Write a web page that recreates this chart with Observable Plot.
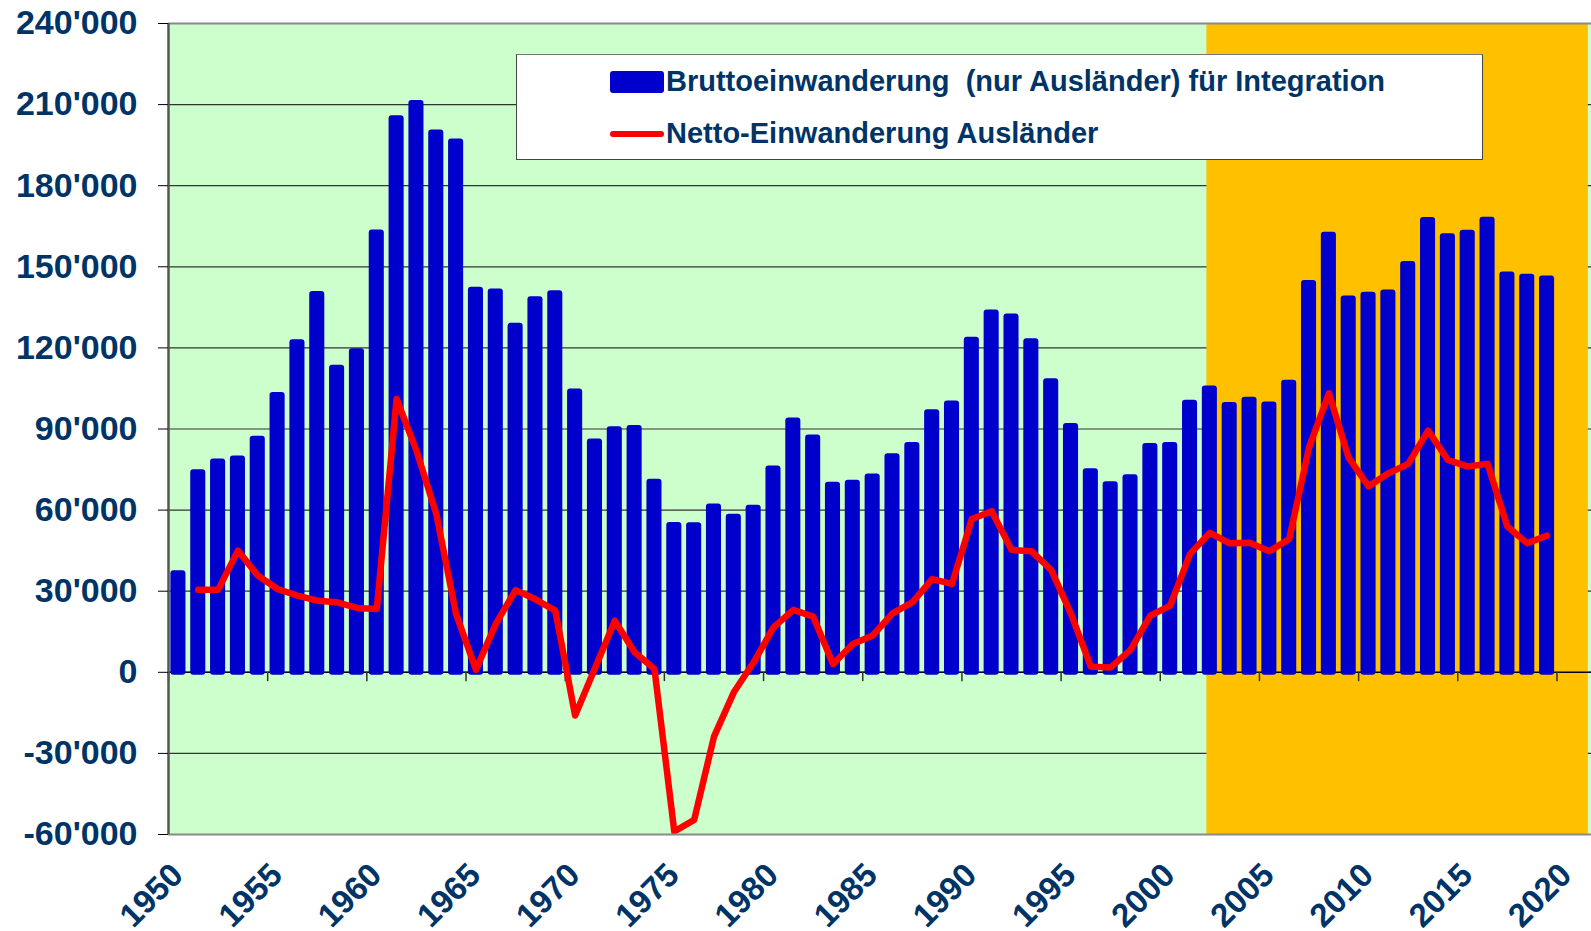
<!DOCTYPE html>
<html>
<head>
<meta charset="utf-8">
<script src="https://cdn.jsdelivr.net/npm/d3@7"></script>
<script src="https://cdn.jsdelivr.net/npm/@observablehq/plot@0.6"></script>
<style>
  body { margin: 0; background: #fff; font-family: "Liberation Sans", Arial, sans-serif; }
  #wrap { position: relative; width: 1591px; height: 931px; }
  #legend { position: absolute; left: 516px; top: 54px; width: 967px; height: 106px; background: #fff;
            border: 1px solid #444; border-top-color: #777; box-sizing: border-box; }
  .sw { position: absolute; left: 93px; }
  .lt { position: absolute; left: 149px; font-weight: bold; font-size: 29px; line-height: 29px; color: #003366; white-space: pre; }
</style>
</head>
<body>
<div id="wrap">
  <div id="chart"></div>
  <div id="legend">
    <div class="sw" style="top:16px;width:54px;height:22px;background:#0000cc;border-radius:3px;"></div>
    <div class="lt" id="lg1" style="top:12px;"></div>
    <div class="sw" style="top:76px;width:54px;height:6px;background:#ff0000;border-radius:3px;"></div>
    <div class="lt" id="lg2" style="top:64px;"></div>
  </div>
</div>
<script>
// ---- data ----
const barYears = [1950,1951,1952,1953,1954,1955,1956,1957,1958,1959,
  1960,1961,1962,1963,1964,1965,1966,1967,1968,1969,
  1970,1971,1972,1973,1974,1975,1976,1977,1978,1979,
  1980,1981,1982,1983,1984,1985,1986,1987,1988,1989,
  1990,1991,1992,1993,1994,1995,1996,1997,1998,1999,
  2000,2001,2002,2003,2004,2005,2006,2007,2008,2009,
  2010,2011,2012,2013,2014,2015,2016,2017,2018,2019];
const bruttoValues = [37600,74900,78900,80000,87300,103500,123000,140900,113600,119700,
  163600,205900,211500,200600,197300,142400,141800,129100,138900,141100,
  104800,86300,90800,91300,71400,55400,55300,62300,58500,61800,
  76300,94100,87800,70300,71000,73400,80800,85000,97100,100400,
  123900,134000,132500,123400,108600,92000,75300,70500,73100,84600,
  85000,100600,105900,99800,101700,100000,108000,144900,162800,139200,
  140600,141400,152000,168200,162200,163500,168300,148100,147200,146600];
const netYears = barYears.slice(1);
const nettoValues = [30500,30500,45000,35800,30800,28400,26500,25900,23800,
  23400,101100,82000,58600,21500,1000,17900,30400,27000,22800,
  -16000,1500,19100,7400,1200,-58900,-54600,-23800,-7400,3700,
  16600,23100,20600,3100,10500,13600,21800,25900,34500,32700,
  56700,59600,45300,44800,37900,21600,2100,1800,8300,21000,
  24700,43800,51600,47700,47900,44800,49300,83200,103200,79300,
  68800,73600,77100,89400,78600,76100,77100,53900,47700,50600];
const xTickYears = [1950,1955,1960,1965,1970,1975,1980,1985,1990,1995,2000,2005,2010,2015,2020];
const yTickValues = [-60000,-30000,0,30000,60000,90000,120000,150000,180000,210000,240000];
const highlightPeriod = [{start: 2002.35, end: 2021.58}];
const seriesNames = ["Bruttoeinwanderung  (nur Ausländer) für Integration", "Netto-Einwanderung Ausländer"];

const bars = barYears.map((year, i) => ({year, value: bruttoValues[i]}));
const net = netYears.map((year, i) => ({year, value: nettoValues[i]}));

const fmt = d => (d < 0 ? "-" : "") + d3.format(",")(Math.abs(d)).replace(/,/g, "'");
const navy = "#003366";

const chart = Plot.plot({
  width: 1591,
  height: 931,
  marginLeft: 168,
  marginRight: 0,
  marginTop: 23,
  marginBottom: 97,
  x: {domain: [1950, 2021.74], axis: null},
  y: {domain: [-60000, 240000], axis: null},
  style: {fontFamily: '"Liberation Sans", Arial, sans-serif', fontWeight: "bold", background: "transparent", overflow: "visible"},
  marks: [
    Plot.frame({fill: "#ccffcc", stroke: null}),
    Plot.gridY(yTickValues, {stroke: "#333", strokeOpacity: 1, strokeWidth: 1.2}),
    Plot.rect(highlightPeriod, {x1: "start", x2: "end", fill: "#ffc000"}),
    Plot.ruleY([0], {stroke: "#000", strokeWidth: 1.5}),
    Plot.ruleX(xTickYears, {x: d => d, y1: 0, y2: -3450, stroke: "#333", strokeWidth: 1.5}),
    Plot.rect(bars, {x1: d => d.year + 0.12, x2: d => d.year + 0.88, y1: 0, y2: "value", fill: "#0000cc", rx: 3, insetBottom: -3}),
    Plot.line(net, {x: d => d.year + 0.5, y: "value", stroke: "#ff0000", strokeWidth: 6.5, strokeLinejoin: "round", strokeLinecap: "round"}),
    Plot.ruleY([-60000, 240000], {stroke: "#8a8a8a", strokeWidth: 2}),
    Plot.ruleX([1950], {stroke: "#555", strokeWidth: 2.5}),
    Plot.axisY(yTickValues, {label: null, tickSize: 10, tickPadding: 21, fontSize: 34, stroke: "#000", fill: navy, tickFormat: fmt}),
    Plot.text(xTickYears, {x: d => d, text: d => String(d), frameAnchor: "bottom", rotate: -45, textAnchor: "end", lineAnchor: "top", dy: 26, fontSize: 33, fill: navy})
  ]
});
document.getElementById("chart").appendChild(chart);
document.getElementById("lg1").textContent = seriesNames[0];
document.getElementById("lg2").textContent = seriesNames[1];
</script>
</body>
</html>
